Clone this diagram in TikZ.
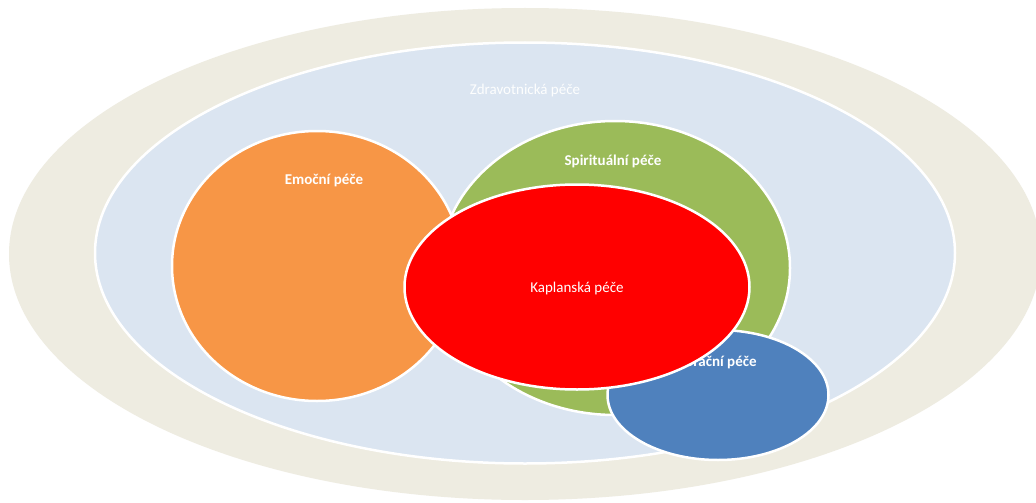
\documentclass[tikz,border=0pt]{standalone}
\usepackage{fontspec}
\setmainfont{Carlito}
\usetikzlibrary{shapes.geometric}
\definecolor{beige}{HTML}{EEECE1}
\definecolor{lightblue}{HTML}{DBE5F1}
\definecolor{orangec}{HTML}{F79646}
\definecolor{greenc}{HTML}{9BBB59}
\definecolor{redc}{HTML}{FF0000}
\definecolor{bluec}{HTML}{4F81BD}
\tikzset{
  blob/.style={ellipse, inner sep=0pt, draw=white, line width=2.5pt},
  lbl/.style={text=white, font=\fontsize{15}{18}\selectfont, inner sep=0pt},
  blbl/.style={lbl, font=\fontsize{15}{18}\selectfont\bfseries},
}
\begin{document}
\begin{tikzpicture}[x=1pt,y=-1pt]
\useasboundingbox (0,0) rectangle (1036,503);
\clip (0,0) rectangle (1036,503);
\fill[white] (0,0) rectangle (1036,503);
\node[ellipse, inner sep=0pt, fill=beige, minimum width=1032pt, minimum height=492pt] (outer) at (525,254) {};
\node[blob, fill=lightblue, minimum width=860pt, minimum height=421pt] (zdrav) at (525,253) {};
\node[lbl, text=white!95!lightblue] (zdravt) at (525,91) {Zdravotnická péče};
\node[blob, fill=orangec, minimum width=290pt, minimum height=270pt] (emoc) at (317,266) {};
\node[blbl] (emoct) at (324,180) {Emoční péče};
\node[blob, fill=greenc, minimum width=350pt, minimum height=294pt] (spir) at (615,268) {};
\node[blbl] (spirt) at (613,161) {Spirituální péče};
\node[blob, fill=bluec, minimum width=221pt, minimum height=130pt] (past) at (718,395) {};
\node[blbl] (pastt) at (708,362) {Pastorační péče};
\node[blob, fill=redc, minimum width=345pt, minimum height=205pt] (kapl) at (577,287) {};
\node[lbl] (kaplt) at (577,288) {Kaplanská péče};
\end{tikzpicture}
\end{document}
